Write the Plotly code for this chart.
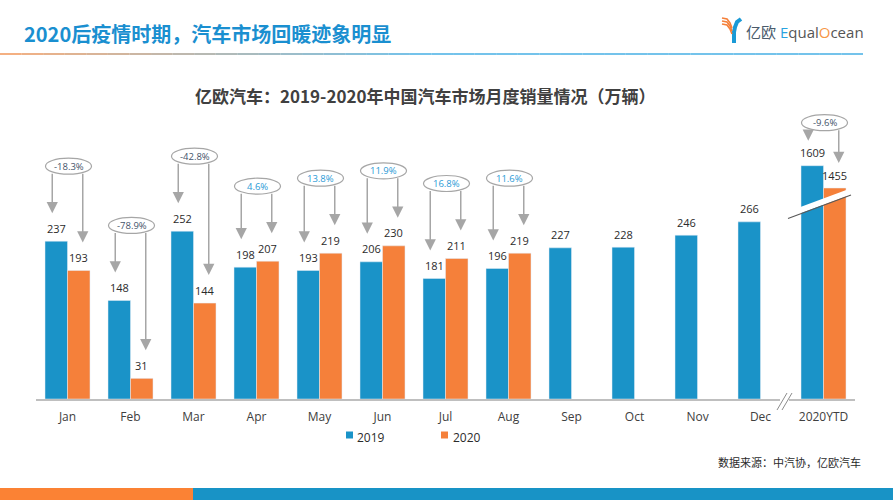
import plotly.graph_objects as go

# ---------------- data ----------------
months = ["Jan", "Feb", "Mar", "Apr", "May", "Jun", "Jul", "Aug", "Sep", "Oct", "Nov", "Dec"]
ytd_label = "2020YTD"
sales_2019 = [237, 148, 252, 198, 193, 206, 181, 196, 227, 228, 246, 266]
sales_2020 = [193, 31, 144, 207, 219, 230, 211, 219]
ytd_2019 = 1609
ytd_2020 = 1455
yoy_labels = ["-18.3%", "-78.9%", "-42.8%", "4.6%", "13.8%", "11.9%", "16.8%", "11.6%"]
ytd_yoy = "-9.6%"
series_names = ["2019", "2020"]

# ---------------- style ----------------
BLUE = "#1a93c8"
ORANGE = "#f5803a"
GRAY = "#a6a6a6"
TXT = "#2b2b2b"
FONT = "Open Sans, Noto Sans CJK SC, sans-serif"
CJK = "Noto Sans CJK SC, sans-serif"

W, H = 893, 500
ML, MR, MT, MB = 36, 38, 100, 101
PW, PH = W - ML - MR, H - MT - MB
Y1_MAX = 449.0
Y2_MAX = 2062.0
NCAT = len(months) + 1
u1 = Y1_MAX / PH          # y units per pixel (primary)
u2 = Y2_MAX / PH          # y units per pixel (YTD axis)
ux = NCAT / PW            # x units per pixel
BAR_W = 0.357


def px(xp):
    return (xp - ML) / PW


def py(yp):
    return (H - MB - yp) / PH


fig = go.Figure()

x19 = list(range(len(sales_2019)))
x20 = list(range(len(sales_2020)))
ytd_x = len(months)

fig.add_trace(go.Bar(x=x19, y=sales_2019, name=series_names[0], marker_color=BLUE,
                     width=BAR_W, offset=-BAR_W, yaxis="y", showlegend=False))
fig.add_trace(go.Bar(x=x20, y=sales_2020, name=series_names[1], marker_color=ORANGE,
                     width=BAR_W, offset=0, yaxis="y", showlegend=False))
fig.add_trace(go.Bar(x=[ytd_x], y=[ytd_2019], name=series_names[0], marker_color=BLUE,
                     width=BAR_W, offset=-BAR_W, yaxis="y2", showlegend=False))
fig.add_trace(go.Bar(x=[ytd_x], y=[ytd_2020], name=series_names[1], marker_color=ORANGE,
                     width=BAR_W, offset=0, yaxis="y2", showlegend=False))

annotations = []
shapes = []


def value_label(x, v, yref):
    annotations.append(dict(x=x, y=v, xref="x", yref=yref, text=str(v), showarrow=False,
                            yanchor="middle", yshift=13, font=dict(family=FONT, size=11, color=TXT)))


for i, v in enumerate(sales_2019):
    value_label(i - BAR_W / 2, v, "y")
for i, v in enumerate(sales_2020):
    value_label(i + BAR_W / 2, v, "y")
value_label(ytd_x - BAR_W / 2, ytd_2019, "y2")
value_label(ytd_x + BAR_W / 2, ytd_2020, "y2")


def bubble(i, a, b, label, yref, u, above_px, tip_px):
    by = max(a, b) + above_px * u
    cx = i + 1 * ux
    shapes.append(dict(type="circle", xref="x", yref=yref, x0=cx - 23 * ux, x1=cx + 23 * ux,
                       y0=by - 8 * u, y1=by + 8 * u, fillcolor="white",
                       line=dict(color=GRAY, width=1.2), layer="above"))
    color = "#44546a" if label.startswith("-") else "#2a9ad6"
    for xl, v in ((i - BAR_W / 2 - 4 * ux, a), (i + BAR_W / 2 + 4 * ux, b)):
        annotations.append(dict(x=xl, y=v + tip_px * u, ax=xl, ay=by - 6 * u,
                                xref="x", yref=yref, axref="x", ayref=yref, text="",
                                showarrow=True, arrowhead=2, arrowsize=1.5, arrowwidth=1.5,
                                arrowcolor=GRAY, standoff=0, startstandoff=0))
    annotations.append(dict(x=cx, y=by, xref="x", yref=yref, text=label, showarrow=False,
                            font=dict(family=FONT, size=9.5, color=color)))


for i, lab in enumerate(yoy_labels):
    bubble(i, sales_2019[i], sales_2020[i], lab, "y", u1, 75, 28)
bubble(ytd_x, ytd_2019, ytd_2020, ytd_yoy, "y2", u2, 43, 25)

# break band across YTD bars
shapes.append(dict(type="line", xref="paper", yref="paper", x0=px(786), y0=py(215.5),
                   x1=px(852), y1=py(191), line=dict(color="white", width=6), layer="above"))
shapes.append(dict(type="line", xref="paper", yref="paper", x0=px(788), y0=py(218.5),
                   x1=px(851), y1=py(195), line=dict(color="#595959", width=1.2), layer="above"))

# axis break marks
shapes.append(dict(type="rect", xref="paper", yref="paper", x0=px(780), x1=px(789),
                   y0=py(402), y1=py(396), fillcolor="white", line=dict(width=0), layer="above"))
for dx in (0, 5):
    shapes.append(dict(type="line", xref="paper", yref="paper", x0=px(777 + dx), y0=py(410),
                       x1=px(787 + dx), y1=py(393), line=dict(color="#8c8c8c", width=1), layer="above"))

# header
annotations.append(dict(x=px(22), y=py(34), xref="paper", yref="paper", xanchor="left",
                        yanchor="middle", showarrow=False,
                        text="<b>2020后疫情时期，汽车市场回暖迹象明显</b>",
                        font=dict(family=CJK, size=20, color="#1a8fd0")))
c0 = (245, 150, 85)
c1 = (70, 175, 228)
N = 40
for k in range(N):
    xa = 863 * k / N
    xb = 863 * (k + 1) / N
    t = min(1.0, (xa + xb) / 2 / 420)
    col = tuple(int(c0[j] + (c1[j] - c0[j]) * t) for j in range(3))
    shapes.append(dict(type="line", xref="paper", yref="paper", x0=px(xa), x1=px(xb),
                       y0=py(54), y1=py(54), line=dict(color="rgb(%d,%d,%d)" % col, width=1.5)))

# logo icon
def path(points):
    return "M" + " L".join("%f,%f" % (px(a), py(b)) for a, b in points)

shapes.append(dict(type="path", xref="paper", yref="paper",
                   path=path([(741, 19), (737, 22), (735, 27), (734, 32), (734, 43)]),
                   line=dict(color="#1a9ad6", width=4)))
for k, off in enumerate((0, 3, 6)):
    shapes.append(dict(type="path", xref="paper", yref="paper",
                       path=path([(722, 18 + off), (727, 19 + off), (730, 23 + off), (732, 28 + off)]),
                       line=dict(color="#f5803a", width=1.6)))
annotations.append(dict(x=px(744), y=py(32), xref="paper", yref="paper", xanchor="left",
                        yanchor="middle", showarrow=False,
                        text="<span style='color:#4a5b6b'>亿欧</span> <span style='color:#29a3e0'>E</span>"
                             "<span style='color:#555'>qual</span><span style='color:#f79646'>O</span>"
                             "<span style='color:#555'>cean</span>",
                        font=dict(family=FONT, size=15, color="#555")))

# chart title
annotations.append(dict(x=px(425), y=py(95), xref="paper", yref="paper", xanchor="center",
                        yanchor="middle", showarrow=False,
                        text="<b>亿欧汽车：2019-2020年中国汽车市场月度销量情况（万辆）</b>",
                        font=dict(family=CJK, size=17, color="#404040")))

# custom legend
for (sx, tx, col, name) in ((346, 355, BLUE, series_names[0]), (441, 451, ORANGE, series_names[1])):
    shapes.append(dict(type="rect", xref="paper", yref="paper", x0=px(sx), x1=px(sx + 7),
                       y0=py(438.5), y1=py(431.5), fillcolor=col, line=dict(width=0)))
    annotations.append(dict(x=px(tx), y=py(437), xref="paper", yref="paper", xanchor="left",
                            yanchor="middle", showarrow=False, text=name,
                            font=dict(family=FONT, size=12, color=TXT)))

# source
annotations.append(dict(x=px(863), y=py(462), xref="paper", yref="paper", xanchor="right",
                        yanchor="middle", showarrow=False, text="数据来源：中汽协，亿欧汽车",
                        font=dict(family=CJK, size=11, color=TXT)))

# bottom stripe
shapes.append(dict(type="rect", xref="paper", yref="paper", x0=px(0), x1=px(193),
                   y0=py(500), y1=py(488), fillcolor="#fb8234", line=dict(width=0)))
shapes.append(dict(type="rect", xref="paper", yref="paper", x0=px(193), x1=px(893),
                   y0=py(500), y1=py(488), fillcolor="#1893c6", line=dict(width=0)))

fig.update_layout(
    width=W, height=H, margin=dict(l=ML, r=MR, t=MT, b=MB),
    paper_bgcolor="white", plot_bgcolor="white",
    barmode="overlay", showlegend=False,
    xaxis=dict(range=[-0.5, NCAT - 0.5], tickmode="array", tickvals=list(range(NCAT)),
               ticktext=months + [ytd_label], showgrid=False, zeroline=False,
               showline=True, linecolor="#bfbfbf", linewidth=1.5, ticks="",
               ticklabelstandoff=6,
               tickfont=dict(family=FONT, size=12, color="#404040"), fixedrange=True),
    yaxis=dict(range=[0, Y1_MAX], visible=False, showgrid=False, zeroline=False),
    yaxis2=dict(range=[0, Y2_MAX], visible=False, overlaying="y", showgrid=False, zeroline=False),
    shapes=shapes, annotations=annotations,
)

fig.write_html("out.html")
